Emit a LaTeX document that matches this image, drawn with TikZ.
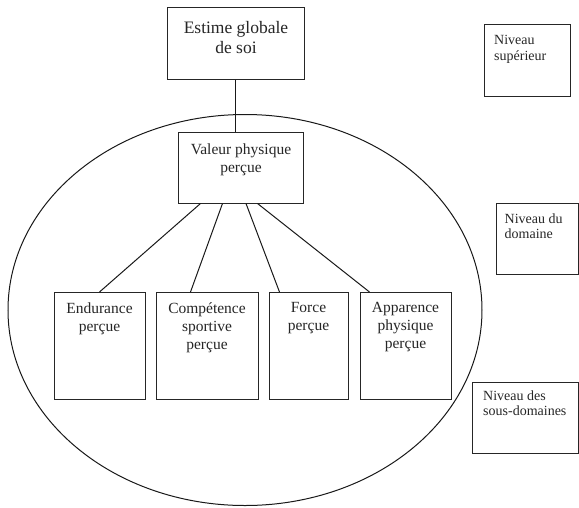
\documentclass[tikz,border=0pt]{standalone}
\usepackage{fontspec}
\setmainfont{Liberation Serif}
\newfontfamily\diagserif{Liberation Serif}
\usetikzlibrary{calc}
\begin{document}
\begin{tikzpicture}[x=1pt,y=-1pt,
  box/.style={draw=black!85, line width=1pt, inner sep=0pt, minimum width=#1},
  boxh/.style={minimum height=#1},
  txt/.style={anchor=north, inner sep=0pt, align=center, text=black!85, font=\diagserif\fontsize{15.5}{18}\selectfont},
  bigtxt/.style={anchor=north, inner sep=0pt, align=center, text=black!85, font=\diagserif\fontsize{17.5}{20}\selectfont},
  lvltxt/.style={anchor=north west, inner sep=0pt, align=left, text=black!85, font=\diagserif\fontsize{14}{15.5}\selectfont},
  conn/.style={draw=black!90, line width=1pt}]
\useasboundingbox (0,0) rectangle (579,507);
% ellipse
\draw[line width=1pt, black!90] (245,310) ellipse [x radius=237, y radius=195.5];
% boxes
\node[box=137, boxh=72, fill=white] (top) at (235.5,43) {};
\node[box=125, boxh=71, fill=white] (val) at (240.5,167.5) {};
\node[box=91, boxh=107, fill=white] (endu) at (99.5,346) {};
\node[box=102, boxh=107, fill=white] (comp) at (207,346) {};
\node[box=79, boxh=107, fill=white] (forc) at (308.5,346) {};
\node[box=91, boxh=107, fill=white] (appa) at (405.5,346) {};
\node[box=86, boxh=72] (sup) at (527,60) {};
\node[box=82, boxh=71] (dom) at (537.5,238.5) {};
\node[box=106, boxh=71] (sous) at (525.5,417.5) {};
% texts
\node[bigtxt] (ttop) at (236,21) {Estime globale\\de soi};
\node[txt] (tval) at (241,143.5) {Valeur physique\\perçue};
\node[txt] (tendu) at (99.5,302.5) {Endurance\\perçue};
\node[txt] (tcomp) at (207,302.5) {Compétence\\sportive\\perçue};
\node[txt] (tforc) at (308.5,302.5) {Force\\perçue};
\node[txt] (tappa) at (405.5,302.5) {Apparence\\physique\\perçue};
\node[lvltxt] (tsup) at (494,35.5) {Niveau\\supérieur};
\node[lvltxt] (tdom) at (504.5,213.5) {Niveau du\\domaine};
\node[lvltxt] (tsous) at (483,390.5) {Niveau des\\sous-domaines};
% connectors
\draw[conn] (top.south) -- (top.south |- val.north);
\draw[conn] ($(val.south west)+(23,0)$) -- ($(endu.north west)+(46,0)$);
\draw[conn] ($(val.south west)+(45,0)$) -- ($(comp.north west)+(35,0)$);
\draw[conn] ($(val.south west)+(68.5,0)$) -- ($(forc.north west)+(11,0)$);
\draw[conn] ($(val.south west)+(80,0)$) -- ($(appa.north west)+(10,0)$);
\end{tikzpicture}
\end{document}
